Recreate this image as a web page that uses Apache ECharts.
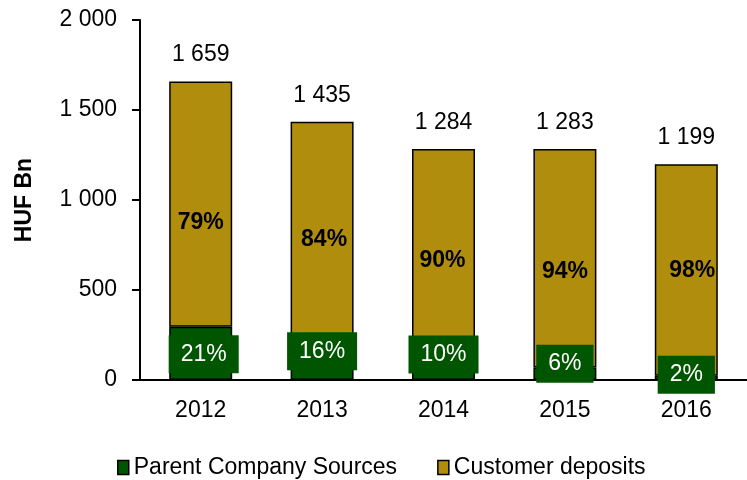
<!DOCTYPE html>
<html>
<head>
<meta charset="utf-8">
<script src="https://cdn.jsdelivr.net/npm/echarts@6/dist/echarts.min.js"></script>
<style>
html,body{margin:0;padding:0;background:#fff;}
#chart{width:747px;height:480px;}
</style>
</head>
<body>
<div id="chart"></div>
<script>
// ---- data ----
const years = ['2012', '2013', '2014', '2015', '2016'];
const parentSources = [296, 230, 128, 70, 24];
const customerDeposits = [1363, 1205, 1156, 1213, 1175];
const totals = [1659, 1435, 1284, 1283, 1199];
const parentPct = ['21%', '16%', '10%', '6%', '2%'];
const depositPct = ['79%', '84%', '90%', '94%', '98%'];
const yTicks = [0, 500, 1000, 1500, 2000];

// ---- presentation ----
const FONT = 'Liberation Sans, Arial, sans-serif';
const GOLD = '#B08D0D';
const GREEN = '#005600';
const parentLabelOffsets = [[3, 1], [0, -8], [0, -14], [0, -10], [0, -3]];
const depositLabelOffsets = [[0, 19], [2, 10], [-1, 8], [0, 13], [6, 1]];

function spaced(v) {
  return String(v).replace(/\B(?=(\d{3})+(?!\d))/g, ' ');
}

const chart = echarts.init(document.getElementById('chart'), null, {renderer: 'canvas'});
chart.setOption({
  animation: false,
  backgroundColor: '#ffffff',
  textStyle: {fontFamily: FONT},
  grid: {left: 140, top: 20, width: 618, height: 360, containLabel: false},
  legend: {
    left: 112, top: 451,
    itemWidth: 11, itemHeight: 14, itemGap: 40,
    icon: 'rect',
    textStyle: {fontFamily: FONT, fontSize: 23, color: '#000'},
    data: [
      {name: 'Parent Company Sources', itemStyle: {borderColor: '#000', borderWidth: 1.5}},
      {name: 'Customer deposits', itemStyle: {borderColor: '#000', borderWidth: 1.5}}
    ]
  },
  xAxis: {
    type: 'category',
    data: years,
    axisLine: {lineStyle: {color: '#000', width: 2}},
    axisTick: {show: false},
    axisLabel: {color: '#000', fontSize: 23, margin: 19, fontFamily: FONT}
  },
  yAxis: {
    type: 'value',
    min: yTicks[0], max: yTicks[yTicks.length - 1], interval: 500,
    name: 'HUF Bn',
    nameLocation: 'middle',
    nameRotate: 90,
    nameGap: 104,
    nameTextStyle: {fontSize: 23, fontWeight: 'bold', color: '#000', fontFamily: FONT},
    axisLine: {show: true, lineStyle: {color: '#000', width: 2}},
    axisTick: {show: true, inside: false, length: 8, lineStyle: {color: '#000', width: 2}},
    splitLine: {show: false},
    axisLabel: {color: '#000', fontSize: 23, margin: 23, fontFamily: FONT, formatter: v => spaced(v)}
  },
  series: [
    {
      name: 'Parent Company Sources',
      type: 'bar',
      stack: 'total',
      barWidth: 63,
      itemStyle: {color: GREEN, borderColor: '#000', borderWidth: 1.5},
      data: parentSources.map((v, i) => ({
        value: v,
        label: {offset: parentLabelOffsets[i]}
      })),
      label: {
        show: true,
        position: 'inside',
        formatter: p => parentPct[p.dataIndex],
        color: '#fff',
        fontSize: 23,
        fontFamily: FONT,
        backgroundColor: GREEN,
        padding: [8, 12, 7, 12]
      },
      z: 3
    },
    {
      name: 'Customer deposits',
      type: 'bar',
      stack: 'total',
      barWidth: 63,
      itemStyle: {color: GOLD, borderColor: '#000', borderWidth: 1.5},
      data: customerDeposits.map((v, i) => ({
        value: v,
        label: {offset: depositLabelOffsets[i]}
      })),
      label: {
        show: true,
        position: 'inside',
        formatter: p => depositPct[p.dataIndex],
        color: '#000',
        fontSize: 23,
        fontWeight: 'bold',
        fontFamily: FONT
      },
      z: 2
    },
    {
      name: 'Total',
      type: 'bar',
      stack: 'total',
      barWidth: 63,
      silent: true,
      itemStyle: {color: 'transparent'},
      data: totals.map(() => 0),
      label: {
        show: true,
        position: 'top',
        distance: 15,
        formatter: p => spaced(totals[p.dataIndex]),
        color: '#000',
        fontSize: 23,
        fontFamily: FONT
      }
    }
  ]
});
</script>
</body>
</html>
